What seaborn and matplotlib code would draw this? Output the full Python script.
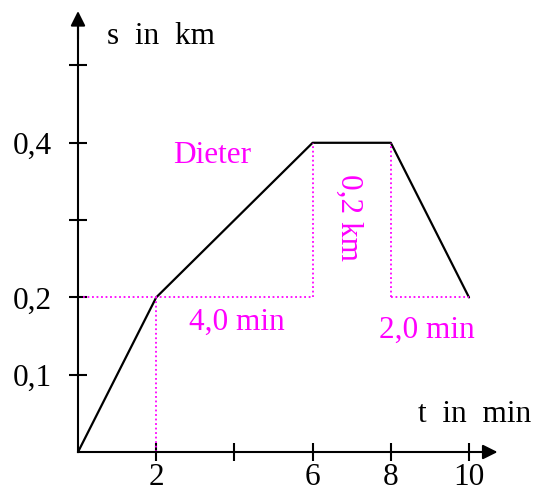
import pandas as pd
import matplotlib.pyplot as plt
import seaborn as sns

# Dieter's trip: time in min, distance in km
t_min = [0, 2, 6, 8, 10]
s_km = [0.0, 0.2, 0.4, 0.4, 0.2]

x_ticks = [2, 4, 6, 8, 10]
x_labels = ["2", "", "6", "8", "10"]
y_ticks = [0.1, 0.2, 0.3, 0.4, 0.5]
y_labels = ["0,1", "0,2", "", "0,4", ""]

magenta = "#ff00ff"
fs = 22.5

sns.set_theme(style="white")
plt.rcParams["font.family"] = ["Liberation Serif", "DejaVu Serif"]
plt.rcParams["text.color"] = "black"

fig = plt.figure(figsize=(5.39, 4.94), dpi=100)
ax = fig.add_axes([0, 0, 1, 1])
ax.set_xlim(-1.995, 11.79)
ax.set_ylim(-0.0543, 0.5847)

df = pd.DataFrame({"t": t_min, "s": s_km})
sns.lineplot(data=df, x="t", y="s", color="black", lw=1.6, sort=False, ax=ax)
ax.set_xlabel("")
ax.set_ylabel("")

# helper lines (dotted, magenta)
dot = dict(color=magenta, lw=1.3, ls=(0, (1, 1.5)))
ax.plot([0.12, t_min[2]], [s_km[1], s_km[1]], **dot)
ax.plot([t_min[1], t_min[1]], [0, s_km[1]], **dot)
ax.plot([t_min[2], t_min[2]], [s_km[1], s_km[2]], **dot)
ax.plot([t_min[3], t_min[3]], [s_km[4], s_km[3]], **dot)
ax.plot([t_min[3], t_min[4]], [s_km[4], s_km[4]], **dot)

# axes through the origin with arrows
for side in ["top", "right"]:
    ax.spines[side].set_visible(False)
ax.spines["left"].set_position(("data", 0))
ax.spines["bottom"].set_position(("data", 0))
ax.spines["left"].set_bounds(0, 0.56)
ax.spines["bottom"].set_bounds(0, 10.5)
for side in ["left", "bottom"]:
    ax.spines[side].set_color("black")
    ax.spines[side].set_linewidth(1.5)
ax.annotate("", xy=(10.8, 0), xytext=(10.3, 0),
            arrowprops=dict(arrowstyle="-|>", color="black", lw=1.5,
                            mutation_scale=22))
ax.annotate("", xy=(0, 0.574), xytext=(0, 0.53),
            arrowprops=dict(arrowstyle="-|>", color="black", lw=1.5,
                            mutation_scale=22))

ax.set_xticks(x_ticks, x_labels)
ax.set_yticks(y_ticks, y_labels)
ax.tick_params(axis="both", direction="inout", length=13, width=1.5,
               color="black", labelsize=fs, labelcolor="black")
ax.tick_params(axis="y", pad=12, left=True)
ax.tick_params(axis="x", pad=1.5, bottom=True)
ax.grid(False)

ax.text(0.74, 0.538, "s  in  km", fontsize=fs, va="center", ha="left", color="black")
ax.text(8.7, 0.048, "t  in  min", fontsize=fs, va="center", ha="left", color="black")

ax.text(2.43, 0.384, "Dieter", fontsize=fs, color=magenta, va="center", ha="left")
ax.text(4.07, 0.168, "4,0 min", fontsize=fs, color=magenta, va="center", ha="center")
ax.text(8.93, 0.158, "2,0 min", fontsize=fs, color=magenta, va="center", ha="center")
ax.text(6.93, 0.304, "0,2 km", fontsize=fs, color=magenta, va="center",
        ha="center", rotation=-90)

fig.savefig("out.png", dpi=100)
